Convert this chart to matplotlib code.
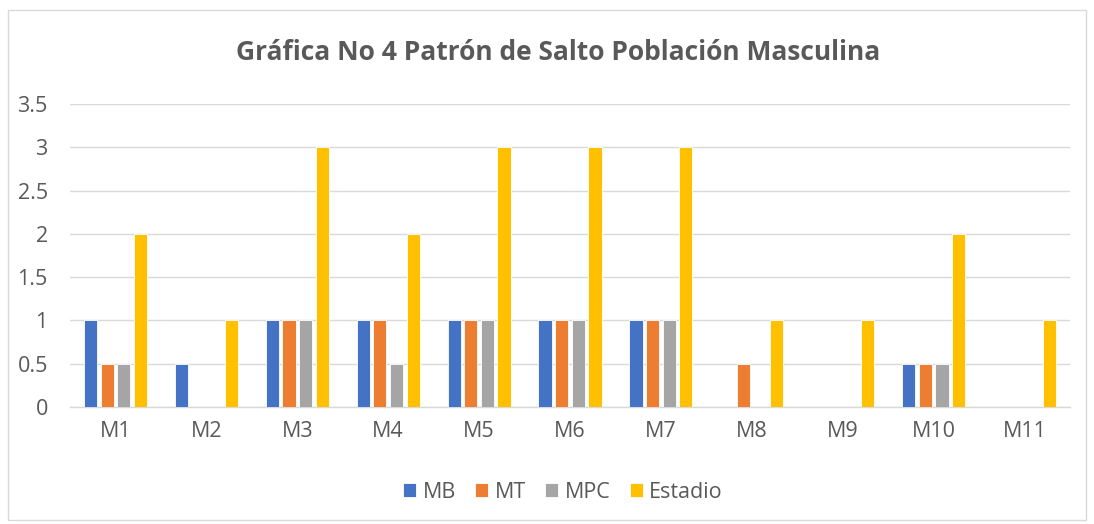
import matplotlib
matplotlib.use("Agg")
import matplotlib.pyplot as plt
import numpy as np
from matplotlib.patches import Rectangle

categories = ["M1", "M2", "M3", "M4", "M5", "M6", "M7", "M8", "M9", "M10", "M11"]
series_names = ["MB", "MT", "MPC", "Estadio"]
mb = [1, 0.5, 1, 1, 1, 1, 1, 0, 0, 0.5, 0]
mt = [0.5, 0, 1, 1, 1, 1, 1, 0.5, 0, 0.5, 0]
mpc = [0.5, 0, 1, 0.5, 1, 1, 1, 0, 0, 0.5, 0]
estadio = [2, 1, 3, 2, 3, 3, 3, 1, 1, 2, 1]
yticks = [0, 0.5, 1, 1.5, 2, 2.5, 3, 3.5]
ytick_labels = ["0", "0.5", "1", "1.5", "2", "2.5", "3", "3.5"]
colors = ["#4472C4", "#ED7D31", "#A5A5A5", "#FFC000"]

plt.rcParams['font.family'] = ['Open Sans', 'DejaVu Sans']
text_color = "#595959"

fig = plt.figure(figsize=(10.94, 5.24), dpi=100)
# figure border
fig.patches.append(Rectangle((8/1094, 4/524), 1078/1094, 510/524, transform=fig.transFigure,
                             fill=False, edgecolor="#D9D9D9", linewidth=1.0))

ax = fig.add_axes([70/1094, 117/524, 1000/1094, 303/524])
x = np.arange(len(categories))
step = 0.183
width = 0.145
for i, (vals, name, c) in enumerate(zip([mb, mt, mpc, estadio], series_names, colors)):
    ax.bar(x + (i - 1.5) * step, vals, width=width, color=c, label=name,
           edgecolor="white", linewidth=0.6, zorder=3)

ax.set_xlim(-0.5, len(categories) - 0.5)
ax.set_ylim(0, 3.5)
ax.set_yticks(yticks)
ax.set_yticklabels(ytick_labels)
ax.set_xticks(x)
ax.set_xticklabels(categories)
ax.grid(axis="y", color="#D9D9D9", linewidth=1.0, zorder=0)
for s in ["top", "right", "left"]:
    ax.spines[s].set_visible(False)
ax.spines["bottom"].set_color("#D9D9D9")
ax.spines["bottom"].set_linewidth(1.0)
ax.tick_params(axis="both", length=0, labelsize=15.5, colors=text_color)
ax.tick_params(axis="y", pad=16)
ax.tick_params(axis="x", pad=10)

fig.text(558/1094, 1 - 53/524, "Gráfica No 4 Patrón de Salto Población Masculina",
         ha="center", va="center", fontsize=19, fontweight="bold", color=text_color)

leg = fig.legend(loc="center", bbox_to_anchor=(563/1094, 1 - 492/524), ncol=4, frameon=False,
                 fontsize=15.5, handlelength=0.6, handleheight=0.6, handletextpad=0.3,
                 columnspacing=0.9, labelcolor=text_color)

fig.savefig("out.png", dpi=100, facecolor="white")
